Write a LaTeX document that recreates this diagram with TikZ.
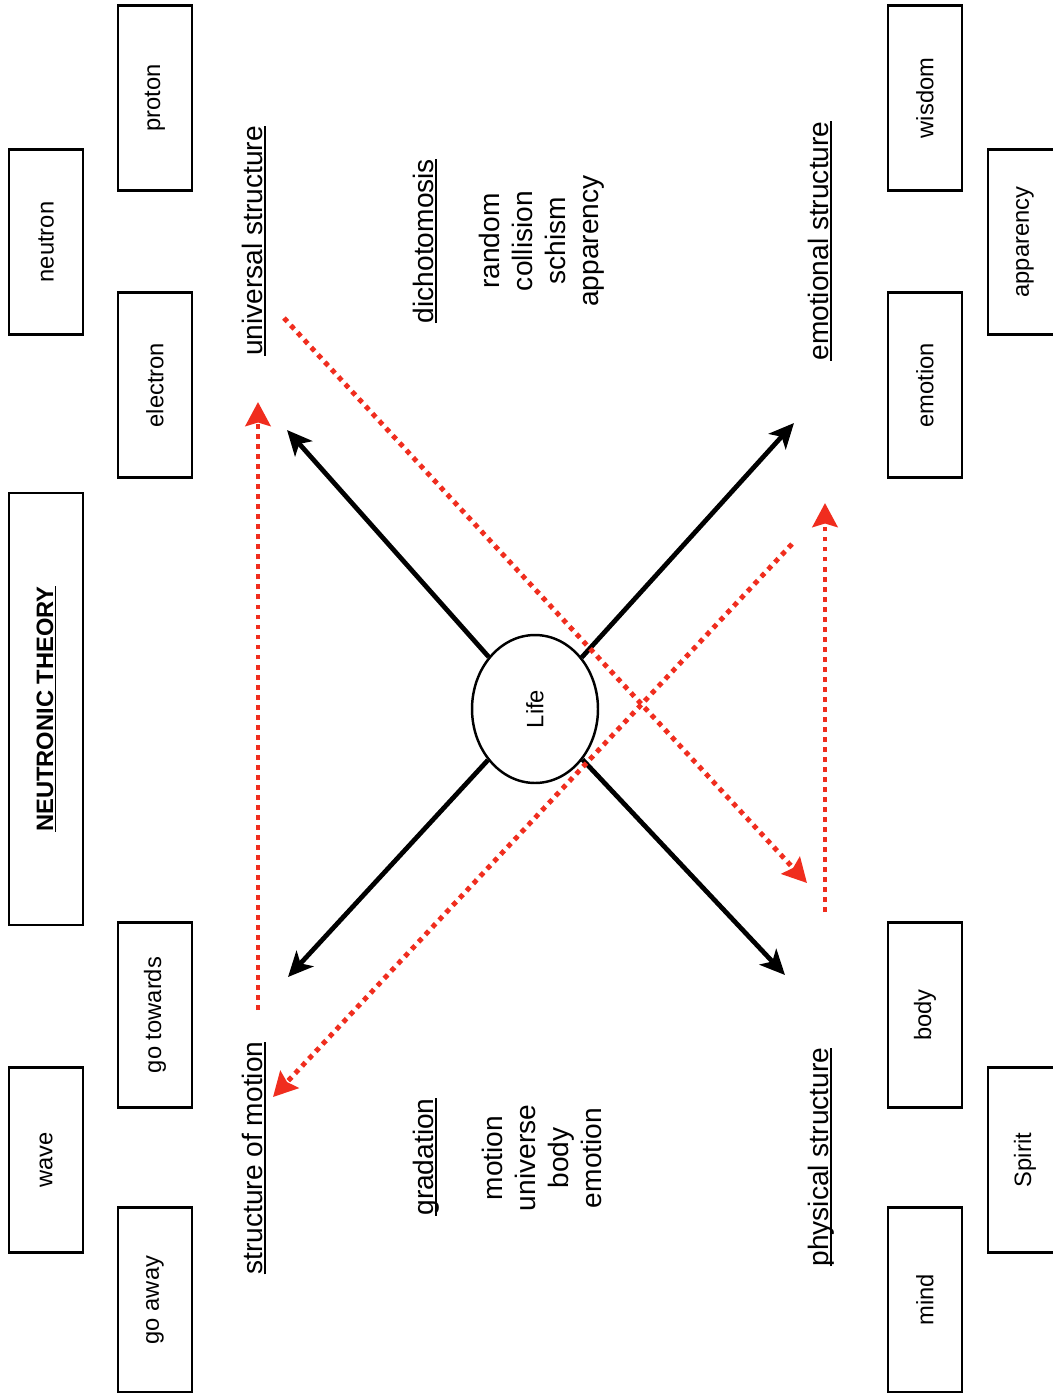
\documentclass[tikz,border=0pt]{standalone}
\usepackage{fontspec}
\setmainfont{Liberation Sans}
\usepackage{tikz}
\usetikzlibrary{arrows.meta}
\usetikzlibrary{shapes.geometric}

\definecolor{dotred}{RGB}{240,45,30}
\newcommand{\ulbar}[1]{\setbox0=\hbox{#1}\rlap{\rule[-0.13em]{\wd0}{0.055em}}\box0}

\tikzset{
  wordbox/.style={draw, line width=1.4pt, rotate=90, minimum width=3.7cm, minimum height=1.48cm, inner sep=0pt, font=\fontsize{13.5}{16}\selectfont},
  heading/.style={rotate=90, anchor=base, inner sep=0pt, font=\fontsize{16}{18.7}\selectfont},
  wordlist/.style={rotate=90, align=center, inner sep=0pt, font=\fontsize{16}{18.7}\selectfont},
  lifearrow/.style={line width=2.7pt, -{Stealth[length=0.5cm,width=0.46cm,inset=0.13cm]}},
  redarrow/.style={draw=dotred, line width=2.8pt, dash pattern=on 2.8pt off 2.9pt, -{Stealth[length=0.48cm,width=0.5cm,inset=0.07cm,fill=dotred]}}
}

\begin{document}
\begin{tikzpicture}[x=0.02cm, y=-0.02cm]
\fill[white] (0,0) rectangle (1052,1393);
\useasboundingbox (0,0) rectangle (1052,1393);

% title
\node[wordbox, minimum width=8.64cm] (title) at (46,709) {};
\node[heading, font=\fontsize{13.5}{16}\selectfont\bfseries] (titletext) at (53,709) {\ulbar{NEUTRONIC THEORY}};

% left column boxes
\node[wordbox] (neutron) at (46,242) {neutron};
\node[wordbox] (wave) at (46,1160) {wave};
\node[wordbox] (proton) at (155,98) {proton};
\node[wordbox] (electron) at (155,385) {electron};
\node[wordbox] (towards) at (155,1015) {go towards};
\node[wordbox] (away) at (155,1300) {go away};

% right column boxes
\node[wordbox] (wisdom) at (925,98) {wisdom};
\node[wordbox] (emotion) at (925,385) {emotion};
\node[wordbox] (body) at (925,1015) {body};
\node[wordbox] (mind) at (925,1300) {mind};
\node[wordbox] (apparencybox) at (1025,242) {apparency};
\node[wordbox] (spirit) at (1025,1160) {Spirit};

% headings
\node[heading] (universal) at (262,241) {\ulbar{universal structure}};
\node[heading] (motionhead) at (262,1158) {\ulbar{structure of motion}};
\node[heading] (emotional) at (828,241) {\ulbar{emotional structure}};
\node[heading] (physical) at (828,1157) {\ulbar{physical structure}};
\node[heading] (dicho) at (433,241) {\ulbar{dichotomosis}};
\node[heading] (gradation) at (433,1157) {\ulbar{gradation}};

% word lists
\node[wordlist] (dicholist) at (542,241) {random\\collision\\schism\\apparency};
\node[wordlist] (gradlist) at (542,1158) {motion\\universe\\body\\emotion};

% centre
\node[draw, ellipse, line width=1.4pt, rotate=90, minimum width=2.96cm, minimum height=2.52cm, inner sep=0pt, font=\fontsize{13.5}{16}\selectfont] (life) at (535,709) {Life};

\coordinate (tipUniversal) at (287,430);
\coordinate (tipEmotional) at (794,423);
\coordinate (tipMotion) at (288,977);
\coordinate (tipPhysical) at (785,975);

\draw[lifearrow] (life) -- (tipUniversal);
\draw[lifearrow] (life) -- (tipEmotional);
\draw[lifearrow] (life) -- (tipMotion);
\draw[lifearrow] (life) -- (tipPhysical);

% red dotted arrows
\coordinate (leftLow) at (258,1010);
\coordinate (leftHigh) at (258,402);
\coordinate (crossAStart) at (284,318);
\coordinate (crossAEnd) at (807,883);
\coordinate (crossBStart) at (792,544);
\coordinate (crossBEnd) at (273,1097);
\coordinate (rightLow) at (825,912);
\coordinate (rightHigh) at (825,503);

\draw[redarrow] (leftLow) -- (leftHigh);
\draw[redarrow] (crossAStart) -- (crossAEnd);
\draw[redarrow] (crossBStart) -- (crossBEnd);
\draw[redarrow] (rightLow) -- (rightHigh);
\end{tikzpicture}
\end{document}
